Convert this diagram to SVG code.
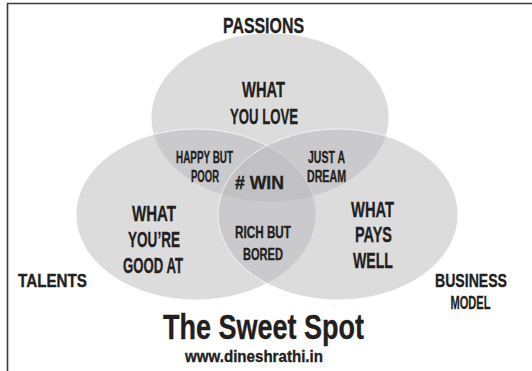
<svg xmlns="http://www.w3.org/2000/svg" width="532" height="371" viewBox="0 0 532 371">
  <style>
    .set { fill: #b7b7b9; fill-opacity: 0.49; stroke: #ffffff; stroke-opacity: 0.7; stroke-width: 1; }
    text { font-family: "Liberation Sans", Arial, sans-serif; font-weight: bold; fill: #231f20; stroke: #231f20; stroke-width: 0.35; text-anchor: middle; }
    .big { font-size: 22.5px; }
    .mid { font-size: 19px; }
    .sm { font-size: 16.5px; }
  </style>
  <rect width="532" height="371" fill="#ffffff"/>
  <!-- frame -->
  <path d="M7.5,371 V3.5 H532" fill="none" stroke="#3a3a3a" stroke-width="1.6"/>

  <!-- three overlapping sets -->
  <g id="passions">
    <ellipse class="set" cx="270" cy="117.5" rx="119" ry="84.5"/>
    <text class="big" x="263.5" y="33" textLength="81" lengthAdjust="spacingAndGlyphs">PASSIONS</text>
    <text class="big" x="263.5" y="97" textLength="43" lengthAdjust="spacingAndGlyphs">WHAT</text>
    <text class="big" x="264" y="124" textLength="68" lengthAdjust="spacingAndGlyphs">YOU LOVE</text>
  </g>
  <g id="talents">
    <ellipse class="set" cx="196" cy="214.5" rx="120" ry="85.5"/>
    <text class="mid" x="52.5" y="287" textLength="69" lengthAdjust="spacingAndGlyphs">TALENTS</text>
    <text class="big" x="154" y="221" textLength="44" lengthAdjust="spacingAndGlyphs">WHAT</text>
    <text class="big" x="154" y="247" textLength="52" lengthAdjust="spacingAndGlyphs">YOU’RE</text>
    <text class="big" x="153" y="273" textLength="60" lengthAdjust="spacingAndGlyphs">GOOD AT</text>
  </g>
  <g id="business-model">
    <ellipse class="set" cx="338" cy="214.5" rx="120" ry="85.5"/>
    <text class="mid" x="471" y="287" textLength="72" lengthAdjust="spacingAndGlyphs">BUSINESS</text>
    <text class="mid" x="470.5" y="309" textLength="40" lengthAdjust="spacingAndGlyphs">MODEL</text>
    <text class="big" x="372.5" y="217" textLength="43" lengthAdjust="spacingAndGlyphs">WHAT</text>
    <text class="big" x="373.5" y="242" textLength="37" lengthAdjust="spacingAndGlyphs">PAYS</text>
    <text class="big" x="373" y="268" textLength="40" lengthAdjust="spacingAndGlyphs">WELL</text>
  </g>

  <!-- overlap labels -->
  <g id="happy-but-poor">
    <text class="sm" x="204.5" y="163" textLength="57" lengthAdjust="spacingAndGlyphs">HAPPY BUT</text>
    <text class="sm" x="205" y="182" textLength="28" lengthAdjust="spacingAndGlyphs">POOR</text>
  </g>
  <g id="just-a-dream">
    <text class="sm" x="326.5" y="163" textLength="37" lengthAdjust="spacingAndGlyphs">JUST A</text>
    <text class="sm" x="326.5" y="182" textLength="39" lengthAdjust="spacingAndGlyphs">DREAM</text>
  </g>
  <g id="rich-but-bored">
    <text class="sm" x="263" y="238" textLength="56" lengthAdjust="spacingAndGlyphs">RICH BUT</text>
    <text class="sm" x="263" y="260" textLength="40" lengthAdjust="spacingAndGlyphs">BORED</text>
  </g>
  <g id="win">
    <text x="259.5" y="189" font-size="18" textLength="49" lengthAdjust="spacingAndGlyphs"># WIN</text>
  </g>

  <!-- caption -->
  <g id="title">
    <text x="263.5" y="339" font-size="35" textLength="201" lengthAdjust="spacingAndGlyphs">The Sweet Spot</text>
    <text x="254" y="362" font-size="17" textLength="138" lengthAdjust="spacingAndGlyphs">www.dineshrathi.in</text>
  </g>
</svg>
